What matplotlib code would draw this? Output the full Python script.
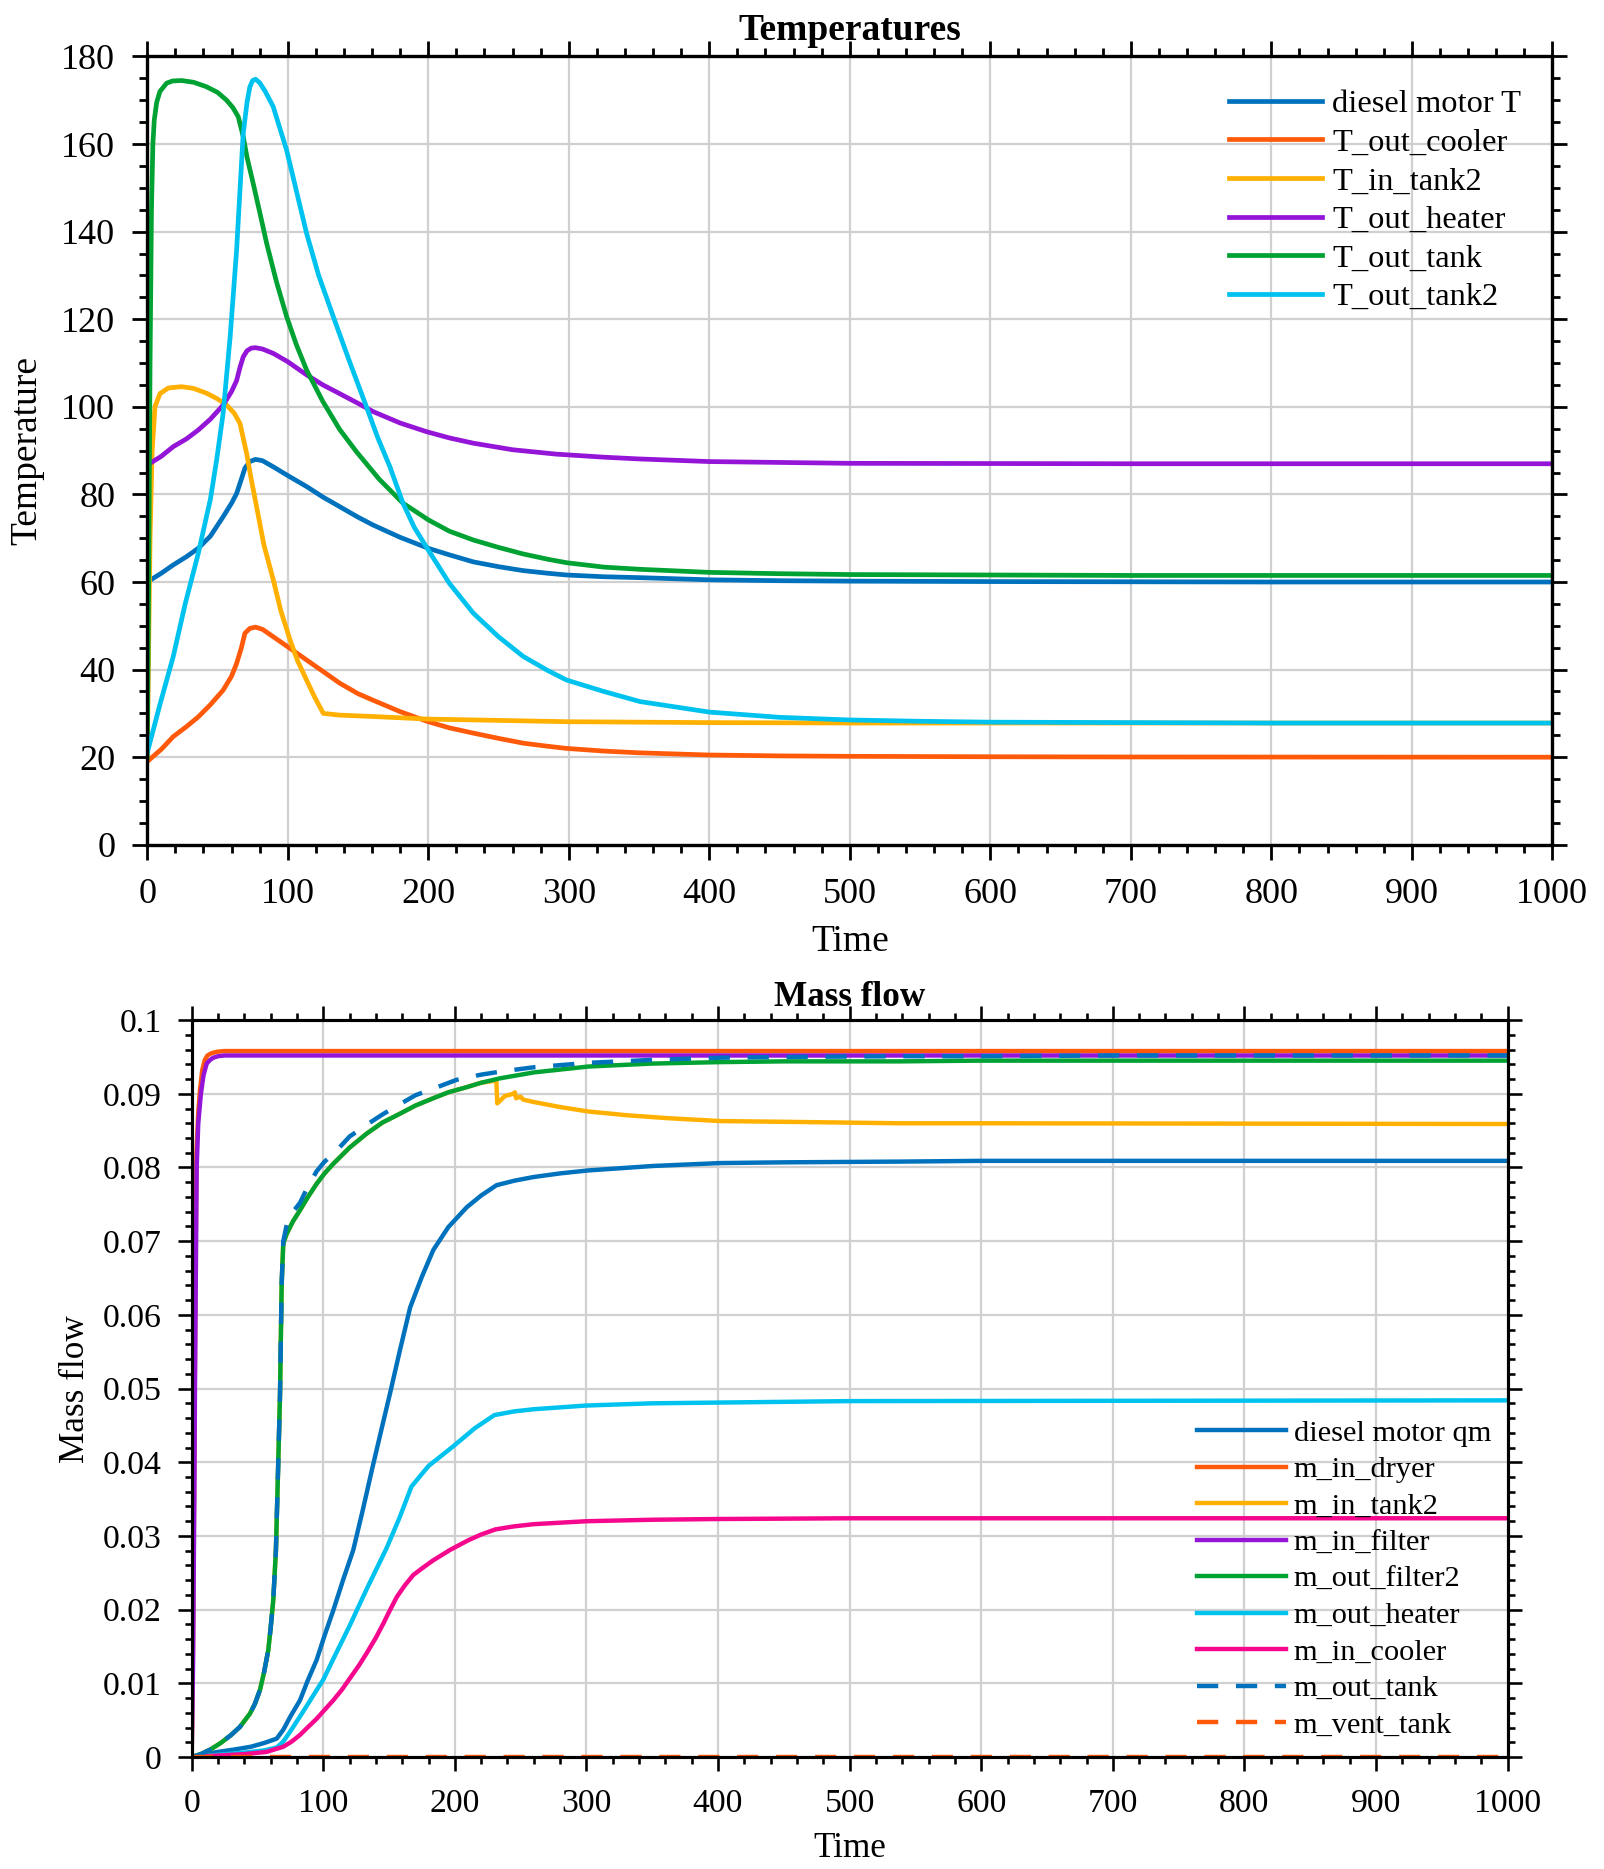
import numpy as np
import matplotlib
matplotlib.use("Agg")
import matplotlib.pyplot as plt
from matplotlib.ticker import AutoMinorLocator, FuncFormatter

SERIF = 'Liberation Serif'
plt.rcParams['font.family'] = 'serif'
plt.rcParams['font.serif'] = [SERIF, 'DejaVu Serif']

# ---------------- Temperatures ----------------
t_diesel_T = [0, 10, 18.5, 28, 36.3, 45, 54, 60, 63.6, 67, 69.5, 73, 77, 82, 89.7, 100,
              113.4, 125, 137, 150, 160.8, 180, 200, 215, 232, 250, 267.6, 285, 298.5,
              325, 350, 400, 450, 500, 600, 700, 800, 1000]
diesel_T = [60, 62, 63.9, 65.8, 67.7, 70.5, 74.9, 78, 80.2, 83.5, 86, 87.5, 88, 87.7, 86.3,
            84.3, 81.8, 79.4, 77.2, 74.8, 73, 70.2, 67.7, 66.2, 64.6, 63.5, 62.6, 62, 61.6,
            61.2, 61, 60.5, 60.3, 60.2, 60.1, 60.05, 60, 60]

t_out_cooler = [0, 10, 18.5, 28, 36.3, 45, 54, 60, 63.6, 67, 69.5, 73, 77, 82, 89.7, 100,
                113.4, 125, 137, 150, 160.8, 180, 200, 215, 232, 250, 267.6, 285, 298.5,
                325, 350, 400, 450, 500, 600, 700, 1000]
T_out_cooler = [19, 21.8, 24.7, 27, 29.2, 32, 35.3, 38.5, 41.4, 45, 48.3, 49.4, 49.7, 49.2,
                47.5, 45.2, 42.2, 39.6, 36.9, 34.5, 33, 30.4, 28.1, 26.7, 25.5, 24.3, 23.2,
                22.5, 22, 21.4, 21, 20.5, 20.3, 20.2, 20.1, 20.05, 20]

t_in_tank2 = [0, 1, 2, 3.5, 5.5, 9, 15, 24.5, 33, 42.3, 50, 56.5, 62, 66, 70.7, 74, 77.8,
              83, 89.7, 95, 101.6, 107, 113.4, 119, 125.3, 137, 160, 200, 250, 300, 400,
              500, 1000]
T_in_tank2 = [20, 45, 70, 90, 100, 103, 104.3, 104.6, 104.2, 103.1, 101.8, 100.4, 98.5, 96.2,
              89.4, 83.5, 77.2, 68.5, 60.5, 53.5, 46.8, 42, 37.6, 33.8, 30.0, 29.6, 29.3,
              28.7, 28.4, 28.1, 27.9, 27.8, 27.8]

t_out_heater = [0, 10, 18.5, 28, 36.3, 45, 54, 60, 63.6, 66, 68.3, 71, 74, 77, 82, 89.7, 100,
                113.4, 125, 137, 150, 160.8, 180, 199, 215, 232, 260, 291, 325, 350, 400,
                450, 500, 600, 700, 1000]
T_out_heater = [86.7, 88.7, 90.9, 92.7, 94.7, 97.2, 100.4, 103.5, 106, 109, 111.4, 112.8,
                113.4, 113.5, 113.2, 112.2, 110.3, 107.3, 105, 103, 100.8, 98.9, 96.3, 94.3,
                92.9, 91.7, 90.2, 89.2, 88.5, 88.1, 87.5, 87.3, 87.1, 87.05, 87, 87]

t_out_tank = [0, 1, 2, 3, 4, 5, 6.7, 9, 13.8, 18, 24.5, 33, 42, 50, 56.5, 61, 64.8, 68.3, 71,
              75.4, 80, 85, 92, 99.2, 106, 113.4, 125, 137, 149, 165, 182, 200, 215, 232,
              250, 267.6, 285, 298.5, 325, 350.7, 400, 450, 500, 600, 700, 1000]
T_out_tank = [20, 60, 110, 145, 160, 165.5, 169.5, 172, 173.9, 174.4, 174.5, 174.1, 173.1,
              171.8, 170, 168.3, 166.2, 161.7, 157, 151, 144.5, 137.3, 128.5, 120.6, 114.3,
              108.4, 101.2, 94.8, 89.7, 83.5, 78, 74.2, 71.6, 69.6, 67.9, 66.4, 65.2, 64.4,
              63.4, 62.9, 62.2, 61.9, 61.7, 61.6, 61.5, 61.5]

t_out_tank2 = [0, 9, 18.5, 27, 36.3, 45, 49.4, 54, 59, 63.6, 66, 68.3, 71, 73, 75, 77.1, 80,
               84, 89.7, 94, 99.2, 106, 113.4, 122, 132.4, 144, 156, 164, 172.7, 182, 190,
               200, 215, 232, 250, 267.6, 285, 298.5, 325, 350.7, 400, 450, 500, 550, 600,
               700, 800, 1000]
T_out_tank2 = [21, 32, 43, 55, 66.5, 79, 87.9, 98.5, 116, 135.8, 149.5, 162.4, 169.5, 173,
               174.5, 174.8, 174, 172, 168.5, 164, 158.6, 149.5, 139.6, 130, 120.6, 110.3,
               100, 93, 86.3, 78, 72.5, 67.3, 59.7, 52.9, 47.5, 43, 39.8, 37.6, 35, 32.7,
               30.3, 29.1, 28.5, 28.2, 28, 27.9, 27.8, 27.8]

temp_series = [
    ("diesel motor T", t_diesel_T, diesel_T),
    ("T_out_cooler", t_out_cooler, T_out_cooler),
    ("T_in_tank2", t_in_tank2, T_in_tank2),
    ("T_out_heater", t_out_heater, T_out_heater),
    ("T_out_tank", t_out_tank, T_out_tank),
    ("T_out_tank2", t_out_tank2, T_out_tank2),
]

# ---------------- Mass flow ----------------
t_diesel_qm = [0, 10, 20, 31.6, 45, 55, 64.6, 69.6, 75, 82.3, 88, 95, 101, 107.6, 115, 122.8,
               130, 137, 144, 150.8, 158, 166, 175, 183.6, 195, 209, 220, 231.7, 245, 259.6,
               280, 301.4, 350, 401.6, 450, 538, 600, 1000]
diesel_qm = [0, 0.0004, 0.0007, 0.001, 0.0014, 0.0019, 0.0025, 0.0037, 0.0055, 0.0077,
             0.0103, 0.0132, 0.0165, 0.0199, 0.024, 0.0281, 0.0335, 0.039, 0.0443, 0.0494,
             0.055, 0.061, 0.0652, 0.0688, 0.0719, 0.0746, 0.0762, 0.0776, 0.0782, 0.0787,
             0.0792, 0.0796, 0.0802, 0.0806, 0.0807, 0.0808, 0.0809, 0.0809]

t_in_dryer = [0, 1, 2, 2.5, 3, 3.6, 5, 6.3, 8, 10, 12, 15, 19, 25, 1000]
m_in_dryer = [0, 0.015, 0.04, 0.055, 0.067, 0.082, 0.0875, 0.0905, 0.0932, 0.0946, 0.0952,
              0.0955, 0.0957, 0.0958, 0.0958]

t_filter2 = [0, 7, 14, 22, 30, 36.7, 44.3, 48, 51.9, 55, 58.2, 60, 62, 64, 65.5, 67.1, 68.4,
             69.6, 72.2, 77, 82.3, 88, 95, 101, 107.6, 120, 133, 145, 158.3, 170, 183.6, 195,
             209, 220, 234.3, 260, 301.4, 350, 401.6, 450, 538, 600, 700, 1000]
m_out_filter2 = [0, 0.0004, 0.001, 0.0019, 0.003, 0.0041, 0.0059, 0.0072, 0.0091, 0.0115,
                 0.0145, 0.0175, 0.0213, 0.028, 0.038, 0.0489, 0.0643, 0.0697, 0.071, 0.0727,
                 0.0742, 0.0759, 0.0778, 0.0792, 0.0805, 0.0827, 0.0846, 0.0861, 0.0873,
                 0.0884, 0.0894, 0.0902, 0.0909, 0.0915, 0.0921, 0.0929, 0.0937, 0.0941,
                 0.0943, 0.0944, 0.0944, 0.0945, 0.0945, 0.0945]

t_in_tank2_m = [0, 7, 14, 22, 30, 36.7, 44.3, 48, 51.9, 55, 58.2, 60, 62, 64, 65.5, 67.1,
                68.4, 69.6, 72.2, 77, 82.3, 88, 95, 101, 107.6, 120, 133, 145, 158.3, 170,
                183.6, 195, 209, 220, 231.5, 232.2, 238, 244.4, 245.6, 246.5, 250, 252,
                259.6, 280, 301.4, 330, 361, 401.6, 450, 538, 600, 1000]
m_in_tank2 = [0, 0.0004, 0.001, 0.0019, 0.003, 0.0041, 0.0059, 0.0072, 0.0091, 0.0115,
              0.0145, 0.0175, 0.0213, 0.028, 0.038, 0.0489, 0.0643, 0.0697, 0.071, 0.0727,
              0.0742, 0.0759, 0.0778, 0.0792, 0.0805, 0.0827, 0.0846, 0.0861, 0.0873,
              0.0884, 0.0894, 0.0902, 0.0909, 0.0915, 0.0918, 0.0887, 0.0897, 0.0900,
              0.0902, 0.0894, 0.0896, 0.0892, 0.0889, 0.0882, 0.0876, 0.0871, 0.0867,
              0.0863, 0.0862, 0.0860, 0.0860, 0.0859]

t_in_filter = [0, 1, 2, 2.5, 3, 3.8, 5, 7, 9, 11.4, 14, 16.5, 20, 25, 1000]
m_in_filter = [0, 0.012, 0.035, 0.05, 0.062, 0.08, 0.086, 0.09, 0.0925, 0.0941, 0.0946,
               0.0949, 0.0951, 0.0952, 0.0952]

t_out_heater_m = [0, 20, 40, 55, 64.6, 69.6, 75, 82.3, 88, 95, 100, 107.6, 120, 133, 148,
                  158, 167, 180, 199, 215, 230, 245, 260, 300, 350, 400, 500, 1000]
m_out_heater = [0, 0.0003, 0.0006, 0.0009, 0.0013, 0.0021, 0.0035, 0.0055, 0.0071, 0.0091,
                0.0105, 0.0133, 0.0178, 0.0228, 0.0283, 0.0325, 0.0367, 0.0395, 0.0422,
                0.0446, 0.0464, 0.0469, 0.0472, 0.0477, 0.048, 0.0481, 0.0483, 0.0484]

t_in_cooler = [0, 20, 40, 57, 69.6, 76, 82.3, 88, 95, 101, 107.6, 114, 120.3, 127, 133, 140,
               145.6, 150, 155.8, 162, 168.4, 175, 183.6, 196.3, 210, 220, 231, 245, 260,
               300, 350, 400, 500, 1000]
m_in_cooler = [0, 0.0002, 0.0004, 0.0007, 0.0014, 0.0021, 0.003, 0.004, 0.0052, 0.0064,
               0.0077, 0.0091, 0.0107, 0.0124, 0.0141, 0.0162, 0.0181, 0.0197, 0.0217,
               0.0233, 0.0247, 0.0256, 0.0267, 0.0281, 0.0294, 0.0302, 0.0309, 0.0313,
               0.0316, 0.0320, 0.0322, 0.0323, 0.0324, 0.0324]

t_out_tank_m = [0, 7, 14, 22, 30, 36.7, 44.3, 48, 51.9, 55, 58.2, 60, 62, 64, 65.5, 67.1,
                68.4, 69.6, 72.2, 77, 82.3, 88, 95, 101, 107.6, 120, 133, 145, 158.3, 170,
                183.6, 201.4, 220, 234.3, 260, 301.4, 350, 401.6, 450, 538, 600, 700, 1000]
m_out_tank = [0, 0.0004, 0.001, 0.0019, 0.003, 0.0041, 0.0059, 0.0072, 0.0091, 0.0115,
              0.0145, 0.0175, 0.0213, 0.028, 0.038, 0.0489, 0.0643, 0.0700, 0.0722, 0.0740,
              0.0752, 0.0773, 0.0795, 0.0808, 0.0818, 0.0842, 0.0858, 0.0872, 0.0886,
              0.0898, 0.0907, 0.0919, 0.0926, 0.0930, 0.0936, 0.0942, 0.0946, 0.0949,
              0.0950, 0.0951, 0.0951, 0.0952, 0.0952]

t_vent_tank = [0, 1000]
m_vent_tank = [0, 0]

mass_series = [
    ("diesel motor qm", t_diesel_qm, diesel_qm, '-'),
    ("m_in_dryer", t_in_dryer, m_in_dryer, '-'),
    ("m_in_tank2", t_in_tank2_m, m_in_tank2, '-'),
    ("m_in_filter", t_in_filter, m_in_filter, '-'),
    ("m_out_filter2", t_filter2, m_out_filter2, '-'),
    ("m_out_heater", t_out_heater_m, m_out_heater, '-'),
    ("m_in_cooler", t_in_cooler, m_in_cooler, '-'),
    ("m_out_tank", t_out_tank_m, m_out_tank, '--'),
    ("m_vent_tank", t_vent_tank, m_vent_tank, '--'),
]

colors = ['#0072BD', '#FF5A0A', '#FFB000', '#9414D8', '#00A234', '#00C2EE', '#F5078E']
mass_colors = colors + ['#0072BD', '#FF5A0A']


def style_axes(ax, ynminor, s):
    # s: scale of this panel (the lower one is drawn a bit smaller)
    ax.xaxis.set_minor_locator(AutoMinorLocator(5))
    ax.yaxis.set_minor_locator(AutoMinorLocator(ynminor))
    ax.tick_params(which='both', direction='out', top=True, right=True,
                   labelsize=13 * s, labelfontfamily=SERIF, width=1.0 * s, pad=6 * s)
    ax.tick_params(axis='x', which='both', pad=6.6 * s)
    ax.tick_params(which='major', length=5.5 * s)
    ax.tick_params(which='minor', length=2.8 * s)
    for sp in ax.spines.values():
        sp.set_linewidth(1.2 * s)
    ax.grid(True, which='major', color='#d0d0d0', linewidth=0.8)
    ax.set_axisbelow(True)


def main():
    fig = plt.figure(figsize=(8.02, 9.345), dpi=200)

    # top panel
    s = 1.0
    ax1 = fig.add_axes([0.0918, 0.548, 0.876, 0.4218])
    for (name, t, v), c in zip(temp_series, colors):
        ax1.plot(t, v, color=c, lw=1.7, label=name)
    ax1.set_xlim(0, 1000)
    ax1.set_ylim(0, 180)
    ax1.set_xticks(np.arange(0, 1001, 100))
    ax1.set_yticks(np.arange(0, 181, 20))
    style_axes(ax1, 4, s)
    ax1.set_xlabel("Time", fontsize=13.5, labelpad=4.8)
    ax1.set_ylabel("Temperature", fontsize=13.5, labelpad=6)
    ax1.set_title("Temperatures", fontsize=13.5, fontweight='bold', pad=6)
    ax1.legend(loc='upper left', bbox_to_anchor=(0.77, 0.958), frameon=False,
               fontsize=11.7, handlelength=2.85, handletextpad=0.32, labelspacing=0.27,
               borderpad=0, borderaxespad=0)

    # bottom panel
    s = 0.937
    ax2 = fig.add_axes([0.1195, 0.0599, 0.8204, 0.3943])
    for (name, t, v, ls), c in zip(mass_series, mass_colors):
        line, = ax2.plot(t, v, color=c, lw=1.7 * s, ls=ls, label=name)
        if ls == '--':
            line.set_dashes((4.8, 4.0))
    ax2.set_xlim(0, 1000)
    ax2.set_ylim(0, 0.1)
    ax2.set_xticks(np.arange(0, 1001, 100))
    ax2.set_yticks(np.linspace(0, 0.1, 11))
    ax2.yaxis.set_major_formatter(FuncFormatter(lambda y, p: '%g' % round(y, 4)))
    style_axes(ax2, 5, s)
    ax2.set_xlabel("Time", fontsize=13.5 * s, labelpad=4.5)
    ax2.set_ylabel("Mass flow", fontsize=13.5 * s, labelpad=3.8)
    ax2.set_title("Mass flow", fontsize=13.5 * s, fontweight='bold', pad=5)
    ax2.legend(loc='lower left', bbox_to_anchor=(0.764, 0.025), frameon=False,
               fontsize=11.7 * s, handlelength=2.92, handletextpad=0.25, labelspacing=0.30,
               borderpad=0, borderaxespad=0)

    fig.savefig("out.png", dpi=200)


if __name__ == '__main__':
    main()
